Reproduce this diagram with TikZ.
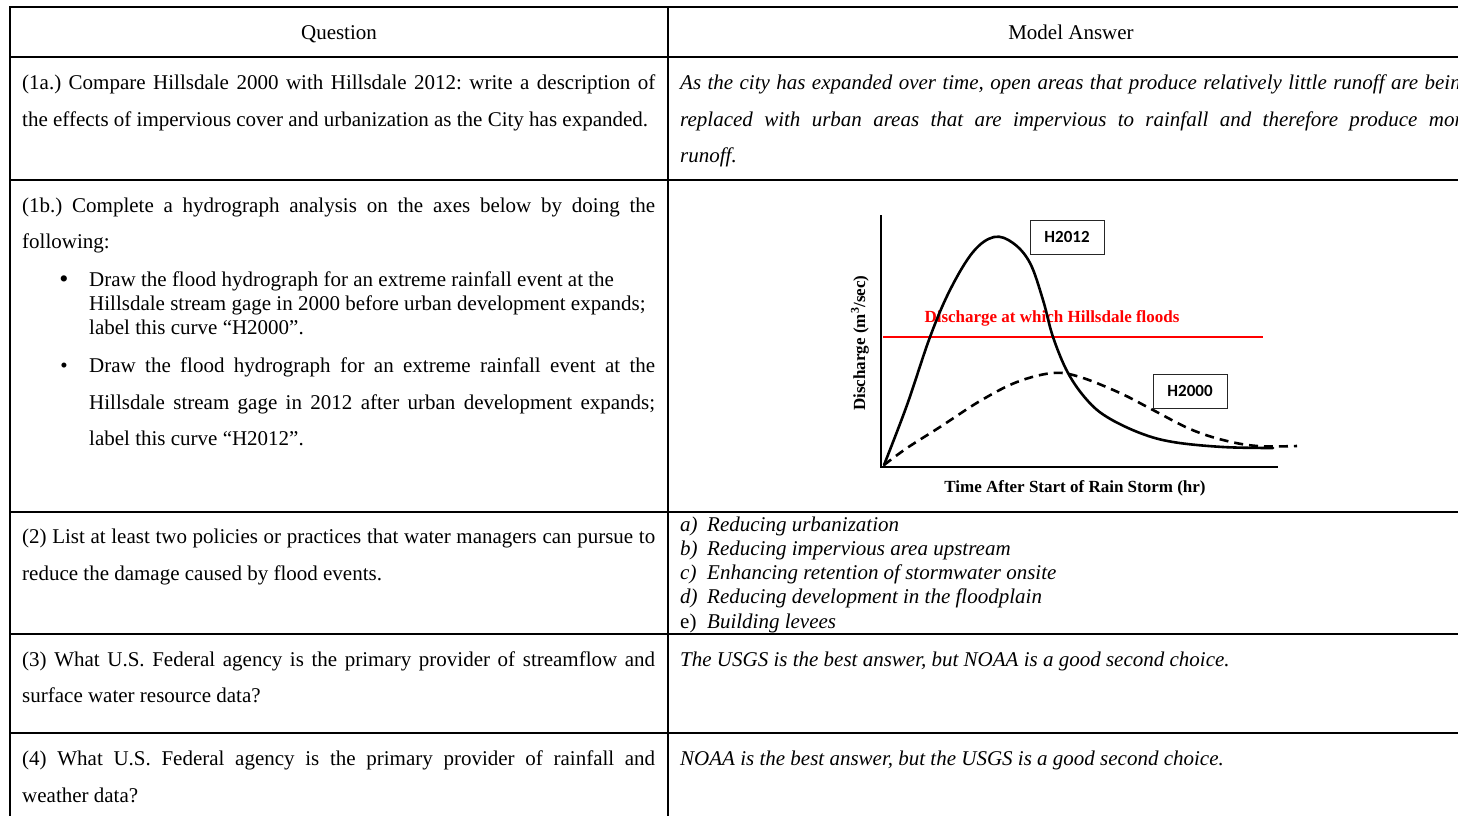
\documentclass[tikz,border=0pt]{standalone}
\usepackage{fontspec}
\setmainfont{Liberation Serif}
\newfontfamily\labfont{Carlito}
\frenchspacing
\newcommand\jst[1]{\makebox[633pt][s]{#1}}
\newcommand\jsr[1]{\makebox[791pt][s]{#1}}
\tikzset{
  txt/.style={anchor=base west, inner sep=0pt, font=\fontsize{21}{25}\selectfont},
  ans/.style={anchor=base west, inner sep=0pt, font=\fontsize{21}{25}\selectfont\itshape},
  hdr/.style={anchor=base, inner sep=0pt, font=\fontsize{21}{25}\selectfont},
  thickrule/.style={line width=2pt},
  thinrule/.style={line width=1.4pt},
  chartlab/.style={inner sep=0pt, font=\fontsize{17}{20}\selectfont\bfseries},
  hbox/.style={draw=black!85, line width=1pt, minimum width=74pt, minimum height=34pt, inner sep=0pt, font=\labfont\bfseries\fontsize{17}{20}\selectfont},
  curve/.style={line width=2.6pt, line cap=round, line join=round},
  axis/.style={line width=2.6pt},
}
\begin{document}
\begin{tikzpicture}[x=1pt,y=-1pt]
\useasboundingbox (0,0) rectangle (1458,815);
\begin{scope}
\clip (0,0) rectangle (1458,815);
% ---------- table rules ----------
\draw[thickrule] (10,7) -- (1470,7);
\draw[thickrule] (10,6) -- (10,830);
\draw[thickrule] (668,6) -- (668,830);
\draw[thinrule] (10,57) -- (1470,57);
\draw[thickrule] (10,180) -- (1470,180);
\draw[thickrule] (10,512) -- (1470,512);
\draw[thinrule] (10,634) -- (1470,634);
\draw[thinrule] (10,733) -- (1470,733);

% ---------- header ----------
\node[hdr] (hq) at (339,39) {Question};
\node[hdr] (ha) at (1071,39) {Model Answer};

% ---------- row 1a ----------
\node[txt] (q1a1) at (22,89) {\jst{(1a.) Compare Hillsdale 2000 with Hillsdale 2012: write a description of}};
\node[txt] (q1a2) at (22,126) {the effects of impervious cover and urbanization as the City has expanded.};
\node[ans] (a1a1) at (680,89) {\jsr{As the city has expanded over time, open areas that produce relatively little runoff are being}};
\node[ans] (a1a2) at (680,126) {\jsr{replaced with urban areas that are impervious to rainfall and therefore produce more}};
\node[ans] (a1a3) at (680,162) {runoff.};

% ---------- row 1b ----------
\node[txt] (q1b1) at (22,212) {\jst{(1b.) Complete a hydrograph analysis on the axes below by doing the}};
\node[txt] (q1b2) at (22,248) {following:};
\node[txt, anchor=base] (b1) at (64,287) {\fontsize{26}{26}\selectfont •};
\node[txt] (q1b3) at (89,286) {Draw the flood hydrograph for an extreme rainfall event at the};
\node[txt] (q1b4) at (89,310) {Hillsdale stream gage in 2000 before urban development expands;};
\node[txt] (q1b5) at (89,334) {label this curve “H2000”.};
\node[txt, anchor=base] (b2) at (64,372) {•};
\node[txt] (q1b6) at (89,372) {\makebox[566pt][s]{Draw the flood hydrograph for an extreme rainfall event at the}};
\node[txt] (q1b7) at (89,409) {\makebox[566pt][s]{Hillsdale stream gage in 2012 after urban development expands;}};
\node[txt] (q1b8) at (89,445) {label this curve “H2012”.};

% ---------- chart ----------
\draw[red, line width=2pt] (883,337) -- (1263,337);
\node[chartlab, text=red] (flood) at (1052,318) {Discharge at which Hillsdale floods};
\node[chartlab, rotate=90] (ylab) at (860,343) {Discharge (m\textsuperscript{3}/sec)};
\node[chartlab] (xlab) at (1075,488) {Time After Start of Rain Storm (hr)};
\draw[axis] (881,215) -- (881,467) -- (1278,467);
\draw[curve] plot[smooth, tension=0.6] coordinates {(884,465) (907,405) (930,337) (950,290) (973,252) (994,237) (1013,243) (1030,263) (1043,300) (1053,337) (1068,373) (1087,400) (1107,417) (1140,433) (1173,442) (1223,447) (1273,448)};
\draw[curve, dash pattern=on 9pt off 6pt, line cap=butt] plot[smooth, tension=0.6] coordinates {(884,465) (907,448) (940,427) (980,401) (1017,382) (1053,373) (1080,377) (1120,393) (1153,410) (1190,429) (1223,440) (1257,446) (1297,446)};
\node[hbox] (h2012) at (1067,237) {H2012};
\node[hbox] (h2000) at (1190,391) {H2000};

% ---------- row 2 ----------
\node[txt] (q21) at (22,543) {\jst{(2) List at least two policies or practices that water managers can pursue to}};
\node[txt] (q22) at (22,580) {reduce the damage caused by flood events.};
\node[ans] (a2a) at (680,531) {a)};
\node[ans] (a2at) at (707,531) {Reducing urbanization};
\node[ans] (a2b) at (680,555) {b)};
\node[ans] (a2bt) at (707,555) {Reducing impervious area upstream};
\node[ans] (a2c) at (680,579) {c)};
\node[ans] (a2ct) at (707,579) {Enhancing retention of stormwater onsite};
\node[ans] (a2d) at (680,603) {d)};
\node[ans] (a2dt) at (707,603) {Reducing development in the floodplain};
\node[txt] (a2e) at (680,628) {e)};
\node[ans] (a2et) at (707,628) {Building levees};

% ---------- row 3 ----------
\node[txt] (q31) at (22,666) {\jst{(3) What U.S. Federal agency is the primary provider of streamflow and}};
\node[txt] (q32) at (22,702) {surface water resource data?};
\node[ans] (a3) at (680,666) {The USGS is the best answer, but NOAA is a good second choice.};

% ---------- row 4 ----------
\node[txt] (q41) at (22,765) {\jst{(4) What U.S. Federal agency is the primary provider of rainfall and}};
\node[txt] (q42) at (22,802) {weather data?};
\node[ans] (a4) at (680,765) {NOAA is the best answer, but the USGS is a good second choice.};
\end{scope}
\end{tikzpicture}
\end{document}
